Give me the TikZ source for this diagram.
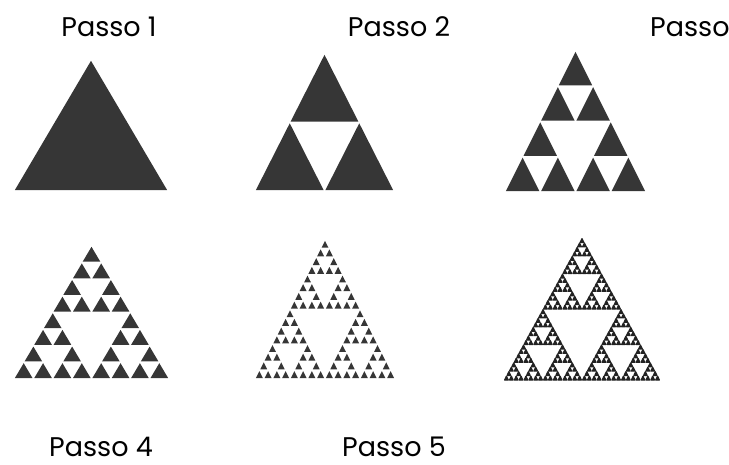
\documentclass[tikz,border=0pt]{standalone}
\usepackage{fontspec}
\setmainfont{Poppins}
\definecolor{fractalgray}{RGB}{54,54,54}
\definecolor{fractaldark}{RGB}{34,34,34}

% spacing left between the smallest triangles
\newcommand\gapx{0.9}
\newcommand\gapy{1.8}

% depth, left x, base y, width, height
\newcommand\sierpinski[5]{%
  \ifnum#1=0\relax
    \fill[fractal] ({#2+\gapx},#3) -- ({#2+#4-\gapx},#3) -- ({#2+#4/2},{#3-#5+\gapy}) -- cycle;
  \else
    \begingroup
    \pgfmathsetmacro\hw{#4/2}%
    \pgfmathsetmacro\hh{#5/2}%
    \pgfmathsetmacro\xr{#2+#4/2}%
    \pgfmathsetmacro\xt{#2+#4/4}%
    \pgfmathsetmacro\yt{#3-#5/2}%
    \edef\next{%
      \noexpand\sierpinski{\the\numexpr#1-1}{#2}{#3}{\hw}{\hh}%
      \noexpand\sierpinski{\the\numexpr#1-1}{\xr}{#3}{\hw}{\hh}%
      \noexpand\sierpinski{\the\numexpr#1-1}{\xt}{\yt}{\hw}{\hh}}%
    \next
    \endgroup
  \fi}

\begin{document}
\begin{tikzpicture}[x=1pt, y=-1pt,
  fractal/.style={fill=fractalgray},
  passo/.style={inner sep=0pt, font=\fontsize{27}{30}\selectfont}]
\useasboundingbox (0,0) rectangle (729,464);

\foreach \d/\x/\y/\w/\h in {0/14/190/154/131, 1/255/190/139/137, 2/505/191/141/141,
  3/14/378/155/133, 4/255/378/140/139}{%
  \sierpinski{\d}{\x}{\y}{\w}{\h}}

% last step: thick outlines, only small holes stay open
\begin{scope}[fractal/.style={fill=fractaldark, draw=fractaldark, line width=1.2pt, line join=round}]
\renewcommand\gapx{0.6}\renewcommand\gapy{0.6}
\sierpinski{5}{504}{380}{156}{142}
\end{scope}

\node[passo, anchor=base] (passo1) at (109,36) {Passo 1};
\node[passo, anchor=base] (passo2) at (399,36) {Passo 2};
\node[passo, anchor=base west] (passo3) at (650,36) {Passo};
\node[passo, anchor=base] (passo4) at (101,456) {Passo 4};
\node[passo, anchor=base] (passo5) at (394,456) {Passo 5};
\end{tikzpicture}
\end{document}
